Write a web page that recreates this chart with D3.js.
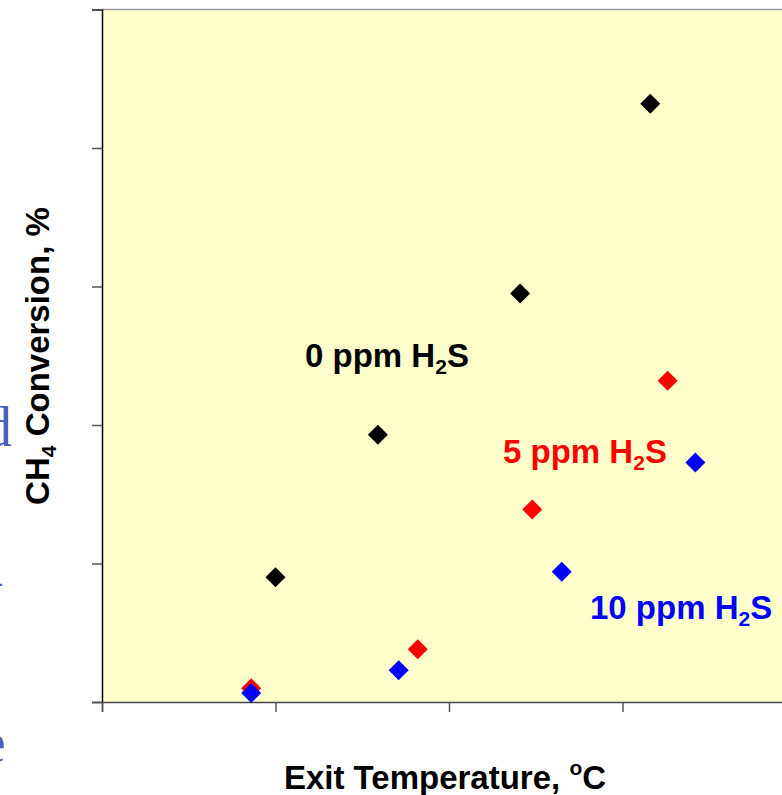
<!DOCTYPE html>
<html lang="en">
<head>
<meta charset="UTF-8">
<script src="https://d3js.org/d3.v7.min.js"></script>
<title>CH4 conversion vs exit temperature</title>
<style>
  body { margin: 0; background: white; }
  text.lbl { font-family: "Liberation Sans", Arial, sans-serif; font-weight: bold; }
  text.frag { font-family: "Liberation Serif", "Times New Roman", serif; font-weight: normal; }
</style>
</head>
<body>
<div id="chart"></div>
<script>
// exit temperature (deg C) and CH4 conversion (%)
const temp0  = [700, 729.5, 770.5, 808];
const conv0  = [9.0, 19.3, 29.5, 43.2];
const temp5  = [693, 741, 774, 813];
const conv5  = [1.0, 3.8, 13.9, 23.2];
const temp10 = [693, 735.5, 782.5, 821];
const conv10 = [0.65, 2.3, 9.4, 17.3];

const xTicks = [650, 700, 750, 800, 850];
const yTicks = [0, 10, 20, 30, 40, 50];

const series = [
  { name: "0",  color: "#000000", t: temp0,  c: conv0,  lx: 305, ly: 367 },
  { name: "5",  color: "#ff0000", t: temp5,  c: conv5,  lx: 503, ly: 463 },
  { name: "10", color: "#0000ff", t: temp10, c: conv10, lx: 590, ly: 619 }
];

const W = 782, H = 795;
const x = d3.scaleLinear().domain([650, 850]).range([102, 796]);
const y = d3.scaleLinear().domain([0, 50]).range([702, 9.5]);

const svg = d3.select("#chart").append("svg")
  .attr("width", W).attr("height", H);

// plot area
svg.append("rect")
  .attr("x", x(650)).attr("y", y(50))
  .attr("width", x(850) - x(650)).attr("height", y(0) - y(50))
  .attr("fill", "#ffffcc");
svg.append("line")
  .attr("x1", x(650)).attr("x2", x(850))
  .attr("y1", y(50)).attr("y2", y(50))
  .attr("stroke", "#999").attr("stroke-width", 1.5);

// axes without labels
const yAxis = svg.append("g")
  .attr("transform", "translate(" + x(650) + ",0)")
  .call(d3.axisLeft(y).tickValues(yTicks).tickSize(10).tickFormat(""));
yAxis.select(".domain").attr("stroke", "#000").attr("stroke-width", 1.5);
yAxis.selectAll(".tick line").attr("stroke", "#555").attr("stroke-width", 1.5);

const xAxis = svg.append("g")
  .attr("transform", "translate(0," + y(0) + ")")
  .call(d3.axisBottom(x).tickValues(xTicks).tickSize(10).tickFormat(""));
xAxis.select(".domain").attr("stroke", "#444").attr("stroke-width", 1.5);
xAxis.selectAll(".tick line").attr("stroke", "#555").attr("stroke-width", 1.5);

// markers
const diamond = d3.symbol().type(d3.symbolSquare).size(200);
series.forEach(function(s) {
  svg.append("g").selectAll("path")
    .data(s.t.map(function(t, i) { return [t, s.c[i]]; }))
    .enter().append("path")
    .attr("d", diamond)
    .attr("transform", function(d) { return "translate(" + x(d[0]) + "," + y(d[1]) + ") rotate(45)"; })
    .attr("fill", s.color);
});

// series labels, e.g. "5 ppm H2S"
series.forEach(function(s) {
  const t = svg.append("text").attr("class", "lbl")
    .attr("x", s.lx).attr("y", s.ly)
    .attr("fill", s.color).style("font-size", "33px");
  t.append("tspan").text(s.name + " ppm H");
  t.append("tspan").text("2").style("font-size", "21px").attr("dy", 7);
  t.append("tspan").text("S").attr("dy", -7);
});

// axis titles
const xt = svg.append("text").attr("class", "lbl")
  .attr("x", 445).attr("y", 789)
  .attr("text-anchor", "middle").style("font-size", "33px");
xt.append("tspan").text("Exit Temperature, ");
xt.append("tspan").text("o").style("font-size", "21px").attr("dy", -14);
xt.append("tspan").text("C").attr("dy", 14);

const yt = svg.append("text").attr("class", "lbl")
  .attr("transform", "translate(49,356) rotate(-90)")
  .attr("text-anchor", "middle").style("font-size", "33px");
yt.append("tspan").text("CH");
yt.append("tspan").text("4").style("font-size", "21px").attr("dy", 7);
yt.append("tspan").text(" Conversion, %").attr("dy", -7);

// fragments of slide text cut off at the left edge
svg.append("text").attr("class", "frag").attr("fill", "#4a5fc0")
  .attr("x", 12).attr("y", 446)
  .attr("text-anchor", "end").style("font-size", "56px").text("d");
svg.append("text").attr("class", "frag").attr("fill", "#4a5fc0")
  .attr("x", 6).attr("y", 762)
  .attr("text-anchor", "end").style("font-size", "60px").text("e");
svg.append("text").attr("class", "frag").attr("fill", "#4a5fc0")
  .attr("x", 3).attr("y", 592)
  .attr("text-anchor", "end").style("font-size", "30px").text("-");
</script>
</body>
</html>
